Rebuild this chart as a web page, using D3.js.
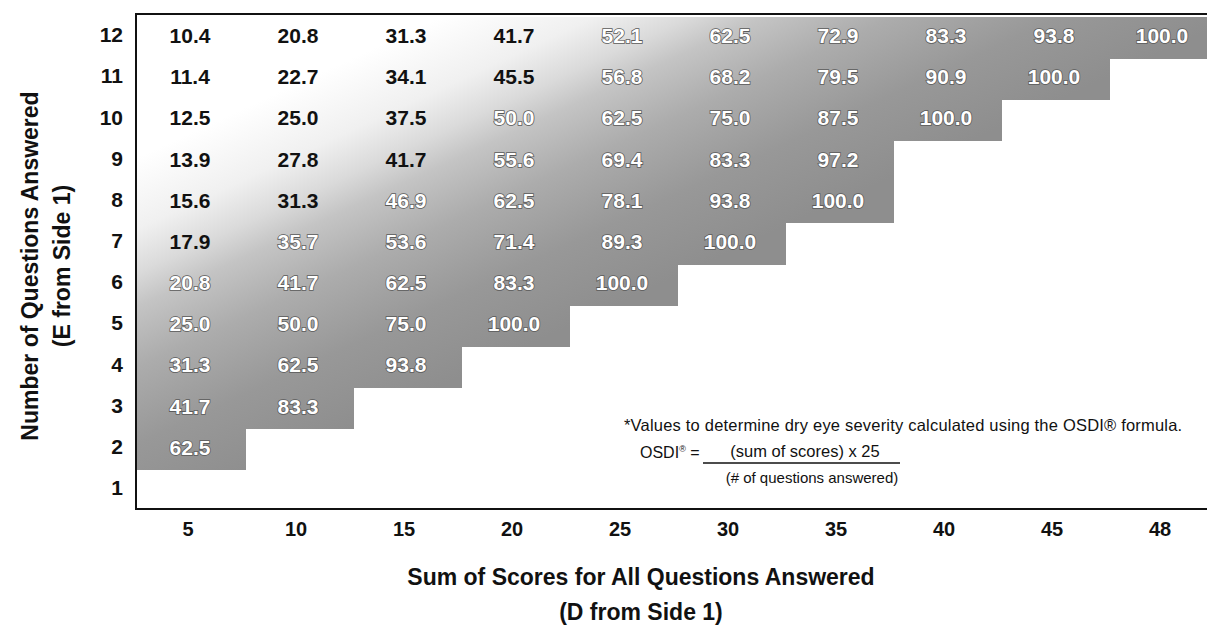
<!DOCTYPE html>
<html>
<head>
<meta charset="utf-8">
<script src="https://cdn.jsdelivr.net/npm/d3@7"></script>
<style>
  html, body { margin: 0; padding: 0; background: #fff; }
  svg { display: block; }
  text { font-family: "Liberation Sans", Arial, Helvetica, sans-serif; }
</style>
</head>
<body>
<div id="chart"></div>
<script>
// ---- data ----
const sumsOfScores = [5, 10, 15, 20, 25, 30, 35, 40, 45, 48];      // x categories
const questionsAnswered = [12, 11, 10, 9, 8, 7, 6, 5, 4, 3, 2, 1];  // y categories
const osdi12 = [10.4, 20.8, 31.3, 41.7, 52.1, 62.5, 72.9, 83.3, 93.8, 100.0];
const osdi11 = [11.4, 22.7, 34.1, 45.5, 56.8, 68.2, 79.5, 90.9, 100.0];
const osdi10 = [12.5, 25.0, 37.5, 50.0, 62.5, 75.0, 87.5, 100.0];
const osdi9  = [13.9, 27.8, 41.7, 55.6, 69.4, 83.3, 97.2];
const osdi8  = [15.6, 31.3, 46.9, 62.5, 78.1, 93.8, 100.0];
const osdi7  = [17.9, 35.7, 53.6, 71.4, 89.3, 100.0];
const osdi6  = [20.8, 41.7, 62.5, 83.3, 100.0];
const osdi5  = [25.0, 50.0, 75.0, 100.0];
const osdi4  = [31.3, 62.5, 93.8];
const osdi3  = [41.7, 83.3];
const osdi2  = [62.5];
const osdi1  = [];
const yTitle = ["Number of Questions Answered", "(E from Side 1)"];
const xTitle = ["Sum of Scores for All Questions Answered", "(D from Side 1)"];
const noteLine = "*Values to determine dry eye severity calculated using the OSDI\u00AE formula.";
const formulaNumerator = "(sum of scores) x 25";
const formulaDenominator = "(# of questions answered)";

const rowsByQuestions = new Map([
  [12, osdi12], [11, osdi11], [10, osdi10], [9, osdi9], [8, osdi8], [7, osdi7],
  [6, osdi6], [5, osdi5], [4, osdi4], [3, osdi3], [2, osdi2], [1, osdi1]
]);
const cells = [];
rowsByQuestions.forEach((vals, q) => {
  vals.forEach((v, i) => cells.push({ q, sum: sumsOfScores[i], value: v }));
});

// ---- layout ----
const W = 1207, H = 631;
const frameLeft = 136, frameTop = 14, frameBottom = 509;

const svg = d3.select("#chart").append("svg")
  .attr("width", W).attr("height", H);

const x = d3.scaleBand().domain(sumsOfScores).range([137, 1217]).padding(0);
const y = d3.scaleBand().domain(questionsAnswered).range([17, 511]).padding(0);

// diagonal shading gradient (light at upper-left, dark toward lower-right)
const ux = 0.42, uy = 0.907, ox = 191, oy = 265;
const pStart = -120, pEnd = 215;
const defs = svg.append("defs");
const grad = defs.append("linearGradient")
  .attr("id", "shade")
  .attr("gradientUnits", "userSpaceOnUse")
  .attr("x1", ox + pStart * ux).attr("y1", oy + pStart * uy)
  .attr("x2", ox + pEnd * ux).attr("y2", oy + pEnd * uy);
[[-120, "#ffffff"], [-55, "#f0f0f0"], [-15, "#dadada"], [15, "#c4c4c4"], [70, "#acacac"],
 [140, "#989898"], [215, "#8e8e8e"]].forEach(([p, c]) => {
  grad.append("stop").attr("offset", (p - pStart) / (pEnd - pStart)).attr("stop-color", c);
});
const proj = d => (x(d.sum) + x.bandwidth() / 2 - ox) * ux + (y(d.q) + y.bandwidth() / 2 - oy) * uy;
const onDark = d => proj(d) > 0 || d.value > 50;

// cells
svg.append("g").selectAll("rect").data(cells).join("rect")
  .attr("x", d => x(d.sum))
  .attr("y", d => y(d.q))
  .attr("width", x.bandwidth() + 0.5)
  .attr("height", y.bandwidth() + 0.5)
  .attr("fill", "url(#shade)")
  .attr("shape-rendering", "crispEdges");

// cell labels
const fmt = d3.format(".1f");
svg.append("g").selectAll("text").data(cells).join("text")
  .attr("x", d => x(d.sum) + x.bandwidth() / 2 - 1)
  .attr("y", d => y(d.q) + y.bandwidth() / 2 - 2)
  .attr("dy", "0.36em")
  .attr("text-anchor", "middle")
  .attr("font-size", 21)
  .attr("font-weight", "bold")
  .attr("fill", d => onDark(d) ? "#ffffff" : "#111111")
  .attr("stroke", d => onDark(d) ? "#5a5a5a" : "none")
  .attr("stroke-width", 1.6)
  .attr("paint-order", "stroke")
  .text(d => fmt(d.value));

// frame
const frame = svg.append("g").attr("stroke", "#111").attr("stroke-width", 2);
frame.append("line").attr("x1", frameLeft).attr("x2", frameLeft).attr("y1", frameTop - 1).attr("y2", frameBottom + 1);
frame.append("line").attr("x1", frameLeft).attr("x2", W).attr("y1", frameTop).attr("y2", frameTop);
frame.append("line").attr("x1", frameLeft).attr("x2", W).attr("y1", frameBottom).attr("y2", frameBottom);

// axes
const yAxis = svg.append("g")
  .attr("transform", `translate(${frameLeft},-2)`)
  .call(d3.axisLeft(y).tickSize(0).tickPadding(13));
yAxis.select(".domain").remove();
yAxis.selectAll("text")
  .attr("font-size", 21).attr("font-weight", "bold").attr("fill", "#111")
  .style("font-family", "'Liberation Sans', Arial, sans-serif");

const xAxis = svg.append("g")
  .attr("transform", `translate(-3,${frameBottom})`)
  .call(d3.axisBottom(x).tickSize(0).tickPadding(13));
xAxis.select(".domain").remove();
xAxis.selectAll("text")
  .attr("font-size", 20).attr("font-weight", "bold").attr("fill", "#111")
  .style("font-family", "'Liberation Sans', Arial, sans-serif");

// axis titles
const yt = svg.append("text")
  .attr("transform", "translate(30,266) rotate(-90)")
  .attr("text-anchor", "middle")
  .attr("font-size", 23).attr("font-weight", "bold").attr("fill", "#111");
yt.append("tspan").attr("x", 0).attr("y", 8).text(yTitle[0]);
yt.append("tspan").attr("x", 0).attr("y", 40).text(yTitle[1]);

const xt = svg.append("text")
  .attr("text-anchor", "middle")
  .attr("font-size", 23).attr("font-weight", "bold").attr("fill", "#111");
xt.append("tspan").attr("x", 641).attr("y", 585).text(xTitle[0]);
xt.append("tspan").attr("x", 641).attr("y", 620).text(xTitle[1]);

// footnote with formula
svg.append("text")
  .attr("x", 624).attr("y", 431)
  .attr("font-size", 16.5).attr("letter-spacing", 0.2).attr("fill", "#111")
  .text(noteLine);

const osdi = svg.append("text").attr("x", 640).attr("y", 458)
  .attr("font-size", 16).attr("fill", "#111");
osdi.append("tspan").text("OSDI");
osdi.append("tspan").attr("font-size", 9).attr("dy", -6).text("\u00AE");
osdi.append("tspan").attr("dy", 6).text(" =");

svg.append("text")
  .attr("x", 805).attr("y", 457)
  .attr("text-anchor", "middle")
  .attr("font-size", 16.5).attr("fill", "#111")
  .text(formulaNumerator);
svg.append("line")
  .attr("x1", 703).attr("x2", 900).attr("y1", 463).attr("y2", 463)
  .attr("stroke", "#111").attr("stroke-width", 1.3);
svg.append("text")
  .attr("x", 812).attr("y", 483)
  .attr("text-anchor", "middle")
  .attr("font-size", 15).attr("fill", "#111")
  .text(formulaDenominator);
</script>
</body>
</html>
